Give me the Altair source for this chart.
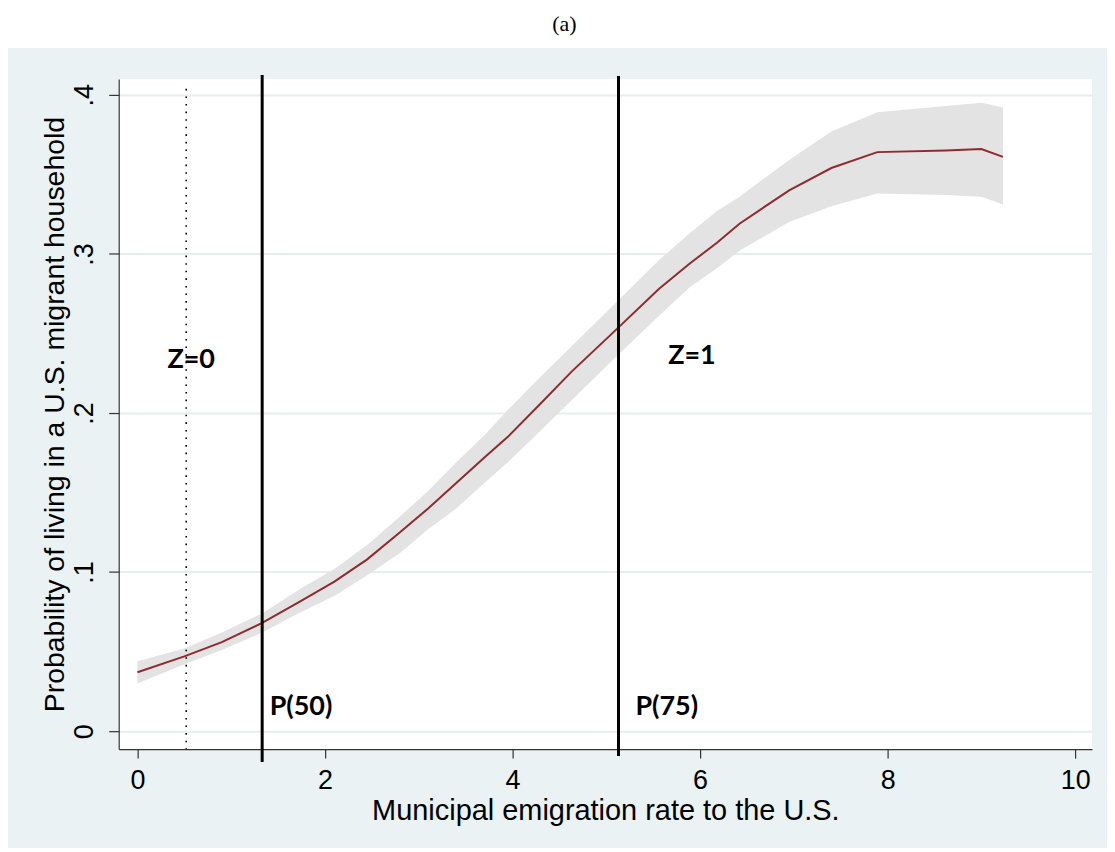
import altair as alt
import pandas as pd

# ---- data ----
x_vals = [0, 0.5, 0.9, 1.33, 1.75, 2.1, 2.45, 2.8, 3.1, 3.4, 3.7, 3.95, 4.3, 4.63,
          5.08, 5.56, 5.89, 6.18, 6.42, 6.95, 7.40, 7.89, 8.62, 9.0, 9.23]
mean_vals = [0.037, 0.047, 0.056, 0.068, 0.082, 0.094, 0.108, 0.125, 0.140, 0.156,
             0.172, 0.185, 0.206, 0.226, 0.251, 0.278, 0.294, 0.307, 0.319, 0.340,
             0.354, 0.364, 0.365, 0.366, 0.361]
upper_vals = [0.044, 0.052, 0.062, 0.074, 0.090, 0.102, 0.117, 0.135, 0.151, 0.169,
              0.186, 0.202, 0.223, 0.242, 0.268, 0.296, 0.313, 0.327, 0.336, 0.359,
              0.377, 0.389, 0.393, 0.395, 0.392]
lower_vals = [0.030, 0.042, 0.051, 0.062, 0.075, 0.085, 0.098, 0.112, 0.127, 0.140,
              0.156, 0.169, 0.189, 0.208, 0.234, 0.261, 0.279, 0.291, 0.302, 0.320,
              0.330, 0.338, 0.337, 0.336, 0.331]

solid_x = [1.33, 5.13]          # P(50), P(75)
solid_top = [0.4125, 0.4119]
solid_bottom = [-0.0194, -0.0157]
dotted_x = [0.52]
dotted_top = [0.4038]
dotted_bottom = [-0.0113]

label_text = ["Z=0", "Z=1", "P(50)", "P(75)"]
label_x = [0.32, 5.66, 1.41, 5.31]
label_y = [0.233, 0.236, 0.015, 0.015]

x_ticks = [0, 2, 4, 6, 8, 10]
y_ticks = [0, 0.1, 0.2, 0.3, 0.4]

x_title = "Municipal emigration rate to the U.S."
y_title = "Probability of living in a U.S. migrant household"
panel_title = "(a)"

# ---- tables ----
curve = pd.DataFrame({"x": x_vals, "m": mean_vals, "lo": lower_vals, "hi": upper_vals})
solid = pd.DataFrame({"x": solid_x, "y": solid_top, "y2": solid_bottom})
dotted = pd.DataFrame({"x": dotted_x, "y": dotted_top, "y2": dotted_bottom})
labels = pd.DataFrame({"t": label_text, "x": label_x, "y": label_y})

W, H = 976, 672
FONT = "Liberation Sans"

xs = alt.Scale(domain=[-0.2, 10.18], nice=False, zero=False)
ys = alt.Scale(domain=[-0.0113, 0.4100], nice=False, zero=False)

xaxis = alt.Axis(values=x_ticks, title=x_title, grid=False, tickSize=9,
                 labelPadding=9, labelFontSize=27, titleFontSize=29,
                 titleFontWeight="normal", titleX=488, titleY=62,
                 titleBaseline="middle", titleAlign="center", labelFlush=False)
yaxis = alt.Axis(values=y_ticks, title=y_title, grid=True, tickSize=10,
                 labelPadding=10, labelAngle=-90, labelAlign="center",
                 labelBaseline="bottom", labelFontSize=27, titleFontSize=28.5,
                 titleFontWeight="normal", titleAngle=-90, titleX=-64, titleY=336,
                 titleBaseline="middle", titleAlign="center",
                 labelExpr="datum.value == 0 ? '0' : '.' + round(datum.value * 10)")


def X(field):
    return alt.X(field, type="quantitative", scale=xs, axis=xaxis)


def Y(field):
    return alt.Y(field, type="quantitative", scale=ys, axis=yaxis)


top_strip = alt.Chart(pd.DataFrame({"a": [0]})).mark_rect(color="white").encode(
    x=alt.value(-115), x2=alt.value(W + 20), y=alt.value(-75), y2=alt.value(-31)
)

band = alt.Chart(curve).mark_area(color="#E3E3E3", opacity=1).encode(
    x=X("x"), y=Y("lo"), y2="hi"
)

line = alt.Chart(curve).mark_line(color="#8E2B2E", strokeWidth=2).encode(
    x=X("x"), y=Y("m")
)

dots = alt.Chart(dotted).mark_rule(color="black", strokeWidth=1.6,
                                   strokeDash=[1.6, 6]).encode(
    x=X("x"), y=Y("y"), y2="y2"
)

rules = alt.Chart(solid).mark_rule(color="black", strokeWidth=3).encode(
    x=X("x"), y=Y("y"), y2="y2"
)

texts = alt.Chart(labels).mark_text(font="Lato", fontWeight="bold", fontSize=27,
                                    align="left", baseline="middle",
                                    color="black").encode(
    x=X("x"), y=Y("y"), text="t"
)

title_text = alt.Chart(pd.DataFrame({"t": [panel_title]})).mark_text(
    font="Liberation Serif", fontSize=22, color="black", align="center",
    baseline="middle").encode(
    x=alt.value(447), y=alt.value(-55), text="t"
)

chart = alt.layer(top_strip, band, line, dots, rules, texts, title_text).properties(
    width=W, height=H,
    autosize=alt.AutoSizeParams(type="none"),
    padding={"left": 111, "top": 70, "right": 15, "bottom": 98},
).configure(
    background="#EAF2F3",
).configure_view(
    fill="white", stroke=None
).configure_axis(
    labelFont=FONT, titleFont=FONT, labelColor="black", titleColor="black",
    domainColor="#333333", tickColor="#333333", domainWidth=1.2, tickWidth=1.2,
    gridColor="#E6EEF1", gridWidth=2
)

chart.save("out.html", embed_options={"renderer": "svg", "actions": False})
